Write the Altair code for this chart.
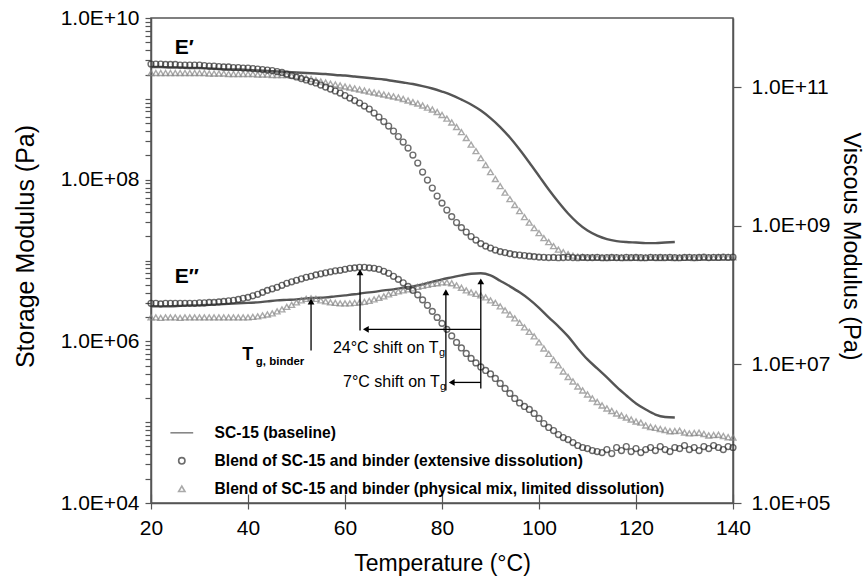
import altair as alt
import pandas as pd

# ---------------- data ----------------
T_MARKERS = list(range(20, 141))          # 1 degC steps (marker series)
T_LINE = list(range(20, 129, 2))          # 2 degC steps (SC-15 baseline line)
X_TICKS = [20, 40, 60, 80, 100, 120, 140]

SERIES = [
    "SC-15 (baseline)",
    "Blend of SC-15 and binder (extensive dissolution)",
    "Blend of SC-15 and binder (physical mix, limited dissolution)",
]

# log10 of modulus in Pa
baseline_storage_log10 = [
    9.394, 9.394, 9.387, 9.387, 9.381, 9.381, 9.375, 9.369, 9.363, 9.363,
    9.356, 9.350, 9.344, 9.338, 9.332, 9.326, 9.319, 9.313, 9.307, 9.295,
    9.288, 9.276, 9.264, 9.251, 9.239, 9.220, 9.202, 9.183, 9.158, 9.128,
    9.090, 9.047, 8.991, 8.930, 8.855, 8.762, 8.651, 8.521, 8.373, 8.212,
    8.045, 7.878, 7.723, 7.581, 7.463, 7.370, 7.308, 7.265, 7.240, 7.228,
    7.222, 7.215, 7.215, 7.222, 7.228,
]
baseline_viscous_log10 = [
    7.838, 7.838, 7.838, 7.845, 7.853, 7.853, 7.860, 7.867, 7.874, 7.882,
    7.889, 7.896, 7.910, 7.925, 7.932, 7.939, 7.954, 7.961, 7.968, 7.983,
    7.997, 8.012, 8.033, 8.048, 8.069, 8.084, 8.106, 8.127, 8.156, 8.192,
    8.228, 8.257, 8.286, 8.308, 8.315, 8.286, 8.207, 8.127, 8.040, 7.939,
    7.817, 7.679, 7.549, 7.405, 7.231, 7.072, 6.942, 6.812, 6.675, 6.552,
    6.436, 6.350, 6.277, 6.241, 6.234,
]
extensive_storage_log10 = [
    9.431, 9.431, 9.431, 9.425, 9.425, 9.425, 9.418, 9.418, 9.418, 9.418,
    9.418, 9.412, 9.406, 9.406, 9.400, 9.394, 9.394, 9.387, 9.387, 9.381,
    9.381, 9.375, 9.369, 9.363, 9.356, 9.350, 9.338, 9.326, 9.307, 9.288,
    9.270, 9.251, 9.233, 9.214, 9.196, 9.171, 9.146, 9.121, 9.097, 9.072,
    9.041, 9.010, 8.979, 8.948, 8.911, 8.874, 8.824, 8.775, 8.719, 8.663,
    8.601, 8.533, 8.465, 8.391, 8.305, 8.206, 8.094, 7.995, 7.896, 7.797,
    7.710, 7.624, 7.543, 7.469, 7.407, 7.352, 7.296, 7.253, 7.209, 7.178,
    7.154, 7.129, 7.110, 7.098, 7.085, 7.073, 7.067, 7.061, 7.054, 7.048,
    7.042, 7.040, 7.036, 7.038, 7.034, 7.036, 7.040, 7.036, 7.034, 7.038,
    7.036, 7.036, 7.040, 7.034, 7.036, 7.038, 7.036, 7.034, 7.040, 7.036,
    7.038, 7.036, 7.034, 7.040, 7.036, 7.038, 7.036, 7.040, 7.036, 7.034,
    7.038, 7.040, 7.036, 7.038, 7.042, 7.036, 7.040, 7.038, 7.042, 7.040,
    7.042,
]
extensive_viscous_log10 = [
    7.882, 7.882, 7.874, 7.882, 7.882, 7.882, 7.882, 7.882, 7.882, 7.882,
    7.889, 7.889, 7.896, 7.896, 7.903, 7.910, 7.918, 7.925, 7.939, 7.954,
    7.968, 7.990, 8.012, 8.040, 8.069, 8.091, 8.113, 8.142, 8.171, 8.192,
    8.214, 8.236, 8.257, 8.272, 8.293, 8.308, 8.322, 8.337, 8.351, 8.358,
    8.373, 8.387, 8.394, 8.402, 8.402, 8.394, 8.387, 8.373, 8.344, 8.315,
    8.272, 8.228, 8.178, 8.127, 8.069, 8.004, 7.932, 7.853, 7.766, 7.679,
    7.593, 7.506, 7.412, 7.318, 7.238, 7.159, 7.087, 7.022, 6.964, 6.913,
    6.863, 6.798, 6.725, 6.653, 6.581, 6.509, 6.444, 6.393, 6.350, 6.292,
    6.220, 6.147, 6.090, 6.046, 5.988, 5.945, 5.916, 5.873, 5.830, 5.801,
    5.786, 5.757, 5.743, 5.728, 5.772, 5.714, 5.801, 5.757, 5.815, 5.743,
    5.786, 5.728, 5.772, 5.801, 5.757, 5.815, 5.772, 5.743, 5.801, 5.786,
    5.830, 5.772, 5.801, 5.757, 5.815, 5.786, 5.830, 5.801, 5.772, 5.815,
    5.801,
]
physical_storage_log10 = [
    9.319, 9.319, 9.319, 9.319, 9.319, 9.319, 9.319, 9.319, 9.319, 9.319,
    9.319, 9.319, 9.313, 9.313, 9.313, 9.313, 9.307, 9.307, 9.307, 9.307,
    9.307, 9.307, 9.301, 9.301, 9.301, 9.295, 9.295, 9.295, 9.295, 9.288,
    9.282, 9.270, 9.257, 9.245, 9.227, 9.214, 9.202, 9.189, 9.177, 9.165,
    9.152, 9.140, 9.128, 9.115, 9.103, 9.090, 9.078, 9.066, 9.053, 9.041,
    9.029, 9.016, 8.998, 8.979, 8.960, 8.942, 8.917, 8.892, 8.868, 8.837,
    8.800, 8.756, 8.707, 8.651, 8.589, 8.515, 8.434, 8.354, 8.267, 8.181,
    8.094, 8.008, 7.921, 7.840, 7.760, 7.686, 7.611, 7.537, 7.469, 7.401,
    7.339, 7.277, 7.228, 7.178, 7.135, 7.104, 7.079, 7.061, 7.048, 7.042,
    7.036, 7.038, 7.034, 7.036, 7.032, 7.036, 7.034, 7.036, 7.032, 7.034,
    7.036, 7.032, 7.034, 7.036, 7.034, 7.032, 7.036, 7.034, 7.032, 7.036,
    7.034, 7.036, 7.032, 7.034, 7.036, 7.034, 7.036, 7.038, 7.036, 7.038,
    7.040,
]
physical_viscous_log10 = [
    7.679, 7.679, 7.672, 7.679, 7.679, 7.679, 7.672, 7.679, 7.679, 7.679,
    7.679, 7.679, 7.679, 7.679, 7.679, 7.679, 7.679, 7.679, 7.679, 7.679,
    7.679, 7.686, 7.694, 7.708, 7.722, 7.737, 7.766, 7.795, 7.831, 7.860,
    7.896, 7.925, 7.946, 7.954, 7.946, 7.925, 7.910, 7.896, 7.889, 7.882,
    7.882, 7.882, 7.889, 7.896, 7.903, 7.918, 7.939, 7.961, 7.983, 8.012,
    8.033, 8.055, 8.069, 8.084, 8.098, 8.120, 8.134, 8.149, 8.163, 8.171,
    8.185, 8.185, 8.171, 8.142, 8.106, 8.069, 8.040, 8.019, 7.997, 7.968,
    7.925, 7.889, 7.838, 7.780, 7.722, 7.665, 7.600, 7.535, 7.470, 7.405,
    7.318, 7.231, 7.152, 7.065, 6.986, 6.899, 6.819, 6.754, 6.682, 6.624,
    6.567, 6.509, 6.458, 6.408, 6.364, 6.328, 6.292, 6.263, 6.234, 6.205,
    6.176, 6.160, 6.119, 6.097, 6.085, 6.068, 6.053, 6.036, 6.039, 6.045,
    6.017, 6.005, 6.010, 6.015, 5.996, 5.975, 5.981, 5.985, 5.967, 5.950,
    5.945,
]

# annotation arrows (temperature, Pa on the viscous-modulus axis)
arrow_T = [53.0, 63.1, 88.0, 80.8, 88.0, 88.0]
arrow_T2 = [53.0, 63.1, 88.0, 80.8, 64.3, 82.0]
arrow_Pa = [1.59e7, 3.10e7, 4.50e6, 4.21e6, 3.21e7, 5.50e6]
arrow_Pa2 = [8.1e7, 2.14e8, 1.58e8, 1.10e8, 3.21e7, 5.50e6]
head_up_T = [53.0, 63.1, 88.0, 80.8]
head_up_Pa = [8.1e7, 2.14e8, 1.58e8, 1.10e8]
head_left_T = [64.3, 82.0]
head_left_Pa = [3.21e7, 5.50e6]

note_text = ["24°C shift on T", "7°C shift on T", "g", "g"]
note_T = [57.5, 59.6, 79.4, 79.6]
note_Pa = [1.70e7, 5.50e6, 1.44e7, 4.65e6]
note_size = [16, 16, 11, 11]

bold_text = ["T", "g, binder", "E\u2033"]
bold_T = [38.8, 41.6, 24.9]
bold_Pa = [1.35e7, 1.10e7, 1.81e8]
bold_size = [18, 11.5, 21]

left_label_text = ["E\u2032"]
left_label_T = [24.9]
left_label_Pa = [4.26e9]

# ---------------- build tables ----------------
def frame(temps, logs, series):
    return pd.DataFrame({"T": temps, "Pa": [10.0 ** v for v in logs], "series": series})

df_base_E1 = frame(T_LINE, baseline_storage_log10, SERIES[0])
df_base_E2 = frame(T_LINE, baseline_viscous_log10, SERIES[0])
df_ext_E1 = frame(T_MARKERS, extensive_storage_log10, SERIES[1])
df_ext_E2 = frame(T_MARKERS, extensive_viscous_log10, SERIES[1])
df_phy_E1 = frame(T_MARKERS, physical_storage_log10, SERIES[2])
df_phy_E2 = frame(T_MARKERS, physical_viscous_log10, SERIES[2])

df_arrows = pd.DataFrame({"T": arrow_T, "T2": arrow_T2, "Pa": arrow_Pa, "Pa2": arrow_Pa2})
df_head_up = pd.DataFrame({"T": head_up_T, "Pa": head_up_Pa})
df_head_left = pd.DataFrame({"T": head_left_T, "Pa": head_left_Pa})
df_notes = pd.DataFrame({"T": note_T, "Pa": note_Pa, "text": note_text, "size": note_size})
df_bold = pd.DataFrame({"T": bold_T, "Pa": bold_Pa, "text": bold_text, "size": bold_size})
df_left_label = pd.DataFrame({"T": left_label_T, "Pa": left_label_Pa, "text": left_label_text})
df_xticks = pd.DataFrame({"T": X_TICKS})

# ---------------- styling ----------------
FONT = "Liberation Sans"
W, H = 582, 485
AX = "#555555"
COLORS = ["#555555", "#2e2e2e", "#858585"]
SHAPES = ["M-3.6,0L3.6,0", "circle", "triangle-up"]

x_scale = alt.Scale(domain=[20, 140], nice=False, zero=False)
x_main = alt.X("T:Q", scale=x_scale,
               axis=alt.Axis(values=X_TICKS, title="Temperature (°C)", tickSize=6,
                             labelPadding=8, titlePadding=14, labelFlush=False))
x_plain = alt.X("T:Q", scale=x_scale, axis=None)

left_ticks = sorted([m * 10 ** k for k in range(4, 10) for m in range(1, 10)] + [10 ** 10])
left_expr = ("indexof([10000, 1000000, 100000000, 10000000000], datum.value) >= 0 ? "
             "'1.0E+' + (datum.value < 1e10 ? '0' : '') + format(log(datum.value) / LN10, '.0f') : ''")
right_expr = "'1.0E+' + (datum.value < 1e10 ? '0' : '') + format(log(datum.value) / LN10, '.0f')"

y_left = alt.Y("Pa:Q", scale=alt.Scale(type="log", domain=[1e4, 1e10], nice=False),
               axis=alt.Axis(orient="left", values=left_ticks, labelExpr=left_expr,
                             title="Storage Modulus (Pa)", titleFontSize=25, titleY=228,
                             tickSize=6, labelPadding=6, titlePadding=22,
                             labelOverlap=False, labelFlush=False))
y_right = alt.Y("Pa:Q", scale=alt.Scale(type="log", domain=[1e5, 1e12], nice=False),
                axis=alt.Axis(orient="right", values=[1e5, 1e7, 1e9, 1e11], labelExpr=right_expr,
                              title="Viscous Modulus (Pa)", titleFontSize=23.5, titleY=228,
                              tickSize=8, labelPadding=10, titlePadding=9,
                              labelOverlap=False, labelFlush=False))

legend_cfg = alt.Legend(title=None, orient="none", legendX=23, legendY=407,
                        labelFont=FONT, labelFontSize=15.6, labelFontWeight="bold",
                        labelColor="black", labelLimit=700, symbolSize=40,
                        symbolStrokeWidth=1.6, rowPadding=11, labelOffset=25, padding=0)
color_enc = alt.Color("series:N", scale=alt.Scale(domain=SERIES, range=COLORS), legend=legend_cfg)
shape_enc = alt.Shape("series:N", scale=alt.Scale(domain=SERIES, range=SHAPES), legend=legend_cfg)

def build_group(dfs, x_enc, y_enc):
    base_df, ext_df, phy_df = dfs
    line = alt.Chart(base_df).mark_line(strokeWidth=2.4, interpolate="monotone").encode(
        x=x_enc, y=y_enc, color=color_enc)
    tri = alt.Chart(phy_df).mark_point(filled=False, size=34, strokeWidth=1.4).encode(
        x=x_enc, y=y_enc, color=color_enc, shape=shape_enc)
    circ = alt.Chart(ext_df).mark_point(filled=False, size=34, strokeWidth=1.4).encode(
        x=x_enc, y=y_enc, color=color_enc, shape=shape_enc)
    return [line, tri, circ]

left_layers = build_group((df_base_E1, df_ext_E1, df_phy_E1), x_main, y_left)
left_layers.append(
    alt.Chart(df_left_label).mark_text(align="left", baseline="middle", font=FONT,
                                       fontWeight="bold", fontSize=21, color="black")
    .encode(x=x_main, y=y_left, text="text:N"))
left = alt.layer(*left_layers)

right_layers = build_group((df_base_E2, df_ext_E2, df_phy_E2), x_plain, y_right)
right_layers += [
    alt.Chart(df_arrows).mark_rule(color="black", strokeWidth=1.3).encode(
        x=x_plain, x2="T2:Q", y=y_right, y2="Pa2:Q"),
    alt.Chart(df_head_up).mark_point(shape="triangle-up", filled=True, size=45, color="black",
                                     opacity=1).encode(x=x_plain, y=y_right),
    alt.Chart(df_head_left).mark_point(shape="triangle-left", filled=True, size=45, color="black",
                                       opacity=1).encode(x=x_plain, y=y_right),
    alt.Chart(df_notes).mark_text(align="left", baseline="middle", font=FONT, color="black").encode(
        x=x_plain, y=y_right, text="text:N", size=alt.Size("size:Q", scale=None)),
    alt.Chart(df_bold).mark_text(align="left", baseline="middle", font=FONT, fontWeight="bold",
                                 color="black").encode(
        x=x_plain, y=y_right, text="text:N", size=alt.Size("size:Q", scale=None)),
]
right = alt.layer(*right_layers)

inner_ticks = alt.Chart(df_xticks).mark_point(opacity=0).encode(
    x=alt.X("T:Q", scale=x_scale,
            axis=alt.Axis(orient="top", offset=-H, labels=False, domain=False, ticks=True,
                          tickSize=9, values=X_TICKS, title=None, grid=False)))

chart = (
    alt.layer(left, right, inner_ticks)
    .resolve_scale(y="independent")
    .resolve_axis(x="independent")
    .properties(width=W, height=H, autosize=alt.AutoSizeParams(type="none"),
                padding={"left": 151, "top": 18, "right": 134, "bottom": 83},
                background="white")
    .configure_view(stroke=AX, strokeWidth=1.5)
    .configure_axis(domainColor=AX, domainWidth=1.5, tickColor=AX, tickWidth=1.2, grid=False,
                    labelFont=FONT, labelFontSize=21, labelColor="black",
                    titleFont=FONT, titleFontSize=23, titleFontWeight="normal", titleColor="black")
)

chart.save("out.html", embed_options={"renderer": "svg", "actions": False})
